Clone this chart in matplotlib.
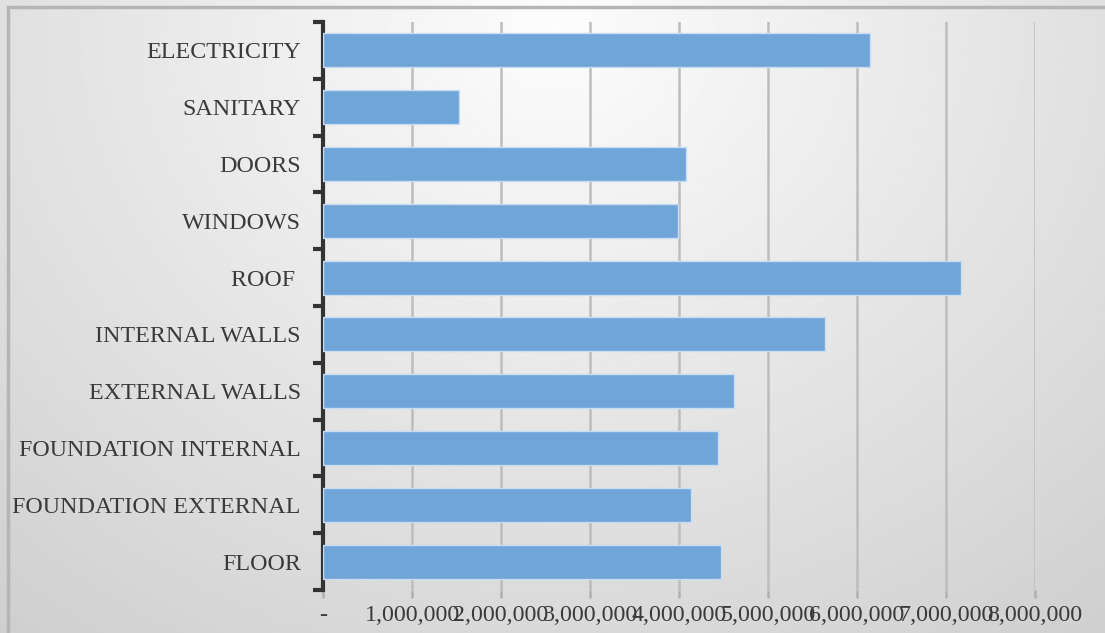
import numpy as np
import matplotlib.pyplot as plt
import matplotlib.ticker as mticker

categories = ["FLOOR", "FOUNDATION EXTERNAL", "FOUNDATION INTERNAL", "EXTERNAL WALLS",
              "INTERNAL WALLS", "ROOF ", "WINDOWS", "DOORS", "SANITARY", "ELECTRICITY"]
costs = [4470000, 4130000, 4440000, 4620000, 5640000, 7170000, 3990000, 4080000, 1530000, 6150000]
xticks = [0, 1000000, 2000000, 3000000, 4000000, 5000000, 6000000, 7000000, 8000000]

plt.rcParams['font.family'] = ['Liberation Serif', 'DejaVu Serif']

fig = plt.figure(figsize=(11.05, 6.33), dpi=100)

# gradient background (light centre, greyer towards the edges)
bg = fig.add_axes([0, 0, 1, 1], zorder=-10)
gx, gy = np.meshgrid(np.linspace(0, 1, 400), np.linspace(0, 1, 240))
d = np.sqrt(((gx - 0.5) / 0.85) ** 2 + ((gy - 0.05) / 1.3) ** 2)
shade = 0.99 - 0.19 * d
bg.imshow(shade, cmap='gray', vmin=0, vmax=1, extent=[0, 1, 0, 1], aspect='auto', origin='upper')
bg.set_axis_off()
# frame of the picture
fig.patches.append(plt.Rectangle((8 / 1105, -0.01), 1.1, 1 - 7 / 633 + 0.01, transform=fig.transFigure,
                                 fill=False, edgecolor='#b5b5b5', linewidth=2.5))

ax = fig.add_axes([323 / 1105, 1 - 590 / 633, (1035 - 323) / 1105, (590 - 22) / 633])
ax.patch.set_alpha(0)

y = np.arange(len(categories))
ax.barh(y, costs, height=0.6, color='#6fa5d8', edgecolor='#c6ddf2', linewidth=1.0, zorder=3)

ax.set_xlim(0, 8000000)
ax.set_ylim(-0.5, len(categories) - 0.5)
ax.set_xticks(xticks)
ax.xaxis.set_major_formatter(mticker.FuncFormatter(lambda v, p: '-' if v == 0 else f'{int(v):,}'))
ax.grid(axis='x', color='#bdbdbd', linewidth=1.8, zorder=1)
ax.set_axisbelow(True)

ax.set_yticks(y)
ax.set_yticklabels(categories)
ax.set_yticks(np.arange(-0.5, len(categories)), minor=True)
ax.tick_params(axis='y', which='major', length=0, pad=16, labelsize=17.3, labelcolor='#3a3a3a')
ax.tick_params(axis='y', which='minor', length=7, width=3, color='#333333')
ax.tick_params(axis='x', length=6, width=1.8, color='#b0b0b0', pad=5, labelsize=17.3, labelcolor='#3a3a3a')

for s in ['top', 'right', 'bottom']:
    ax.spines[s].set_visible(False)
ax.spines['left'].set_color('#333333')
ax.spines['left'].set_linewidth(3)

fig.savefig('out.png', dpi=100)
